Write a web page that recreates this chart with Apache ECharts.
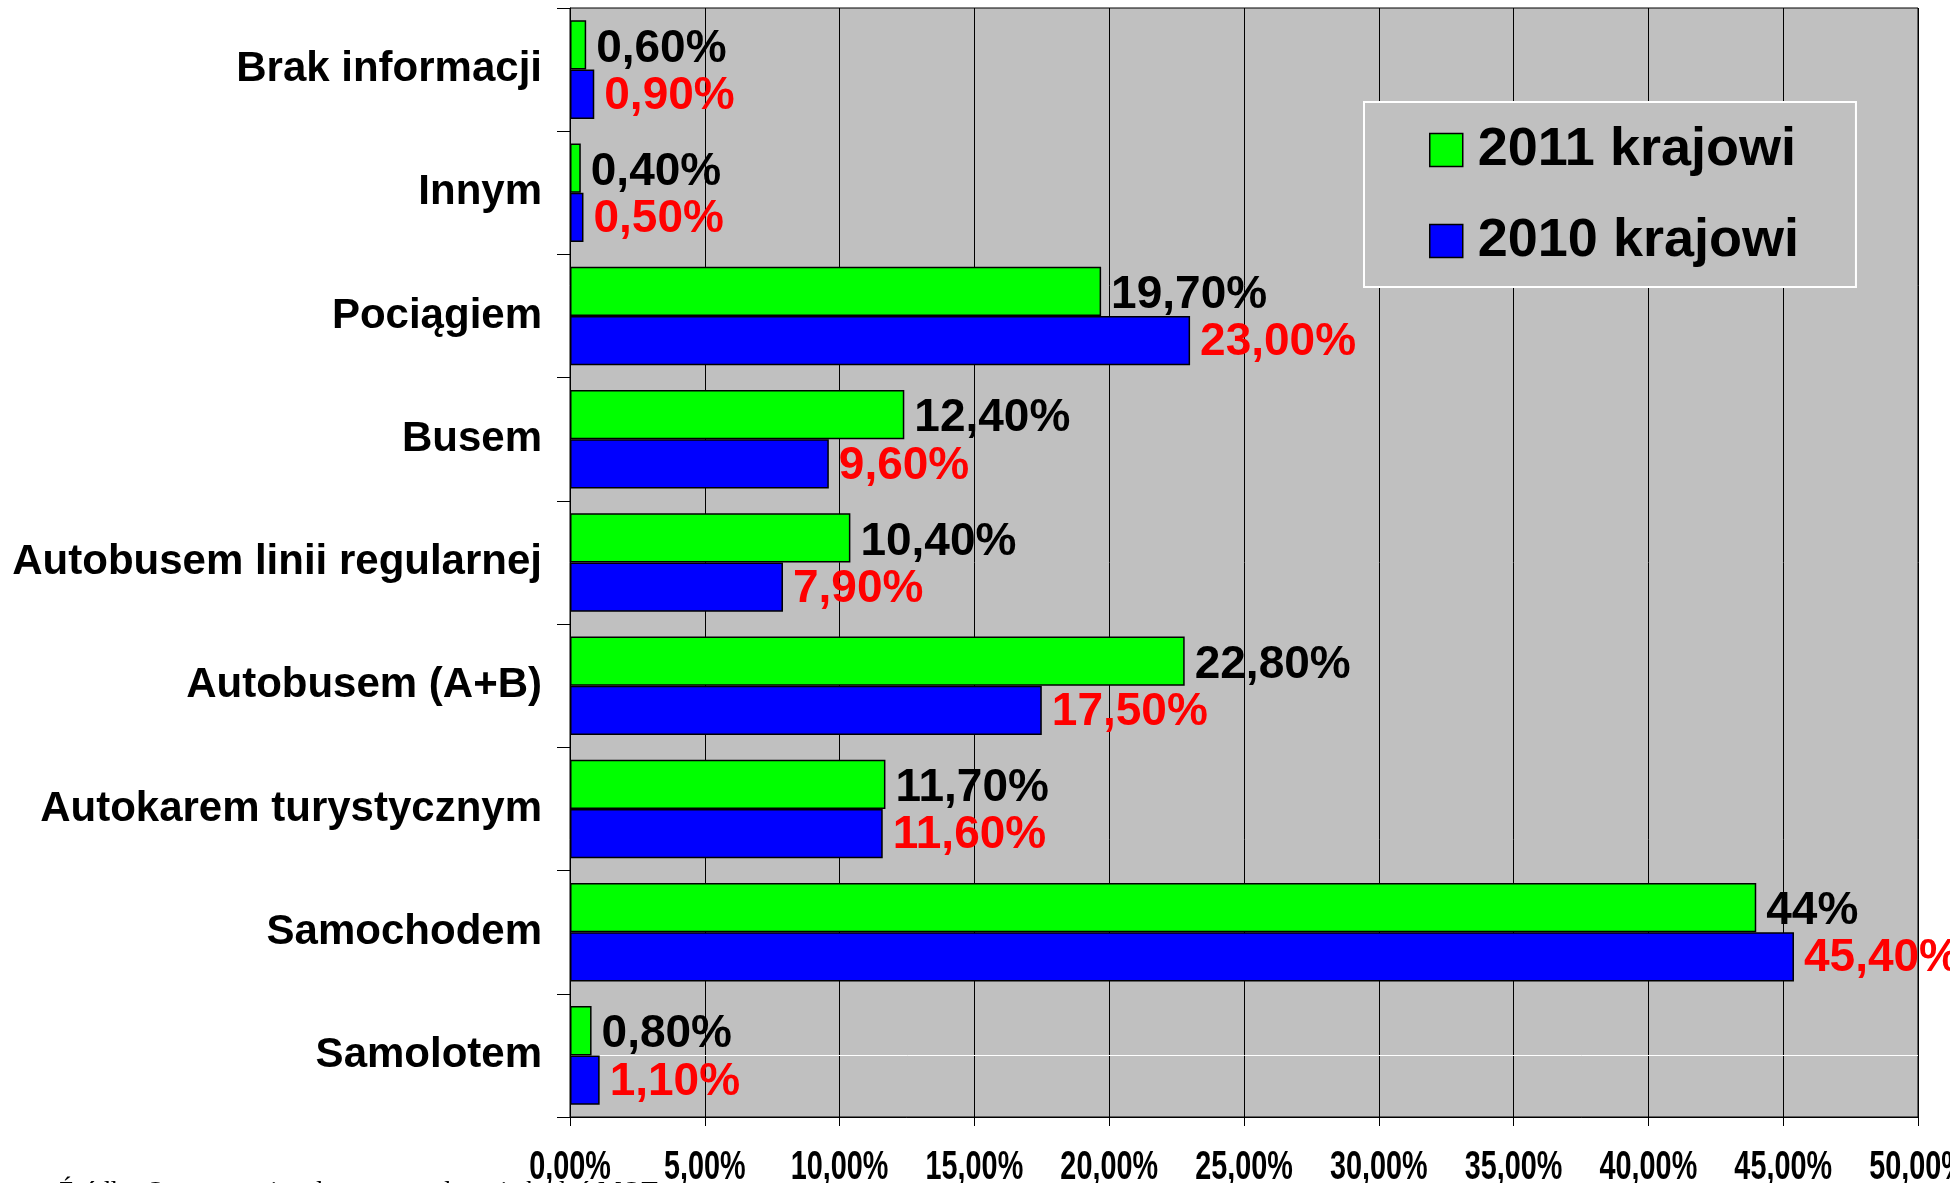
<!DOCTYPE html>
<html>
<head>
<meta charset="utf-8">
<script src="https://cdn.jsdelivr.net/npm/echarts@6/dist/echarts.min.js"></script>
<style>
    html, body { margin: 0; padding: 0; background: #fff; }
    #main { width: 1950px; height: 1183px; }
</style>
</head>
<body>
<div id="main"></div>
<script>
// dane z wykresu (od góry do dołu)
const categories = [
    'Brak informacji',
    'Innym',
    'Pociągiem',
    'Busem',
    'Autobusem linii regularnej',
    'Autobusem (A+B)',
    'Autokarem turystycznym',
    'Samochodem',
    'Samolotem',
];
const values2011 = [0.6, 0.4, 19.7, 12.4, 10.4, 22.8, 11.7, 44, 0.8];
const values2010 = [0.9, 0.5, 23.0, 9.6, 7.9, 17.5, 11.6, 45.4, 1.1];
// w oryginale ta jedna etykieta jest bez miejsc po przecinku
const wholeLabels2011 = ['Samochodem'];
const xTicks = [0, 5, 10, 15, 20, 25, 30, 35, 40, 45, 50];
const sourceNote = 'Źródło: Opracowanie własne na podstawie badań MOT';

const FONT = '"Liberation Sans", Arial, sans-serif';

function pct(v, digits) {
    return v.toFixed(digits).replace('.', ',') + '%';
}

let option = {
    backgroundColor: '#ffffff',
    animation: false,
    grid: {
        left: 570,
        top: 8,
        right: 32,
        bottom: 66,
        containLabel: false,
        outerBoundsMode: 'none',
        show: true,
        backgroundColor: '#c0c0c0',
        borderColor: '#000',
        borderWidth: 1,
    },
    legend: {
        orient: 'vertical',
        left: 1364,
        top: 102,
        itemWidth: 33,
        itemHeight: 33,
        itemGap: 37,
        icon: 'rect',
        backgroundColor: '#c0c0c0',
        borderColor: '#ffffff',
        borderWidth: 2,
        padding: [21, 57, 19, 65],
        itemStyle: {
            borderColor: '#000',
            borderWidth: 1.5,
        },
        textStyle: {
            fontFamily: FONT,
            fontSize: 54,
            fontWeight: 'bold',
            color: '#000',
            lineHeight: 54,
            padding: [0, 0, 0, 10],
        },
        data: ['2011 krajowi', '2010 krajowi'],
    },
    xAxis: {
        type: 'value',
        min: xTicks[0],
        max: xTicks[xTicks.length - 1],
        interval: xTicks[1] - xTicks[0],
        axisLine: { show: true, lineStyle: { color: '#000', width: 1 } },
        axisTick: { show: true, length: 9, inside: false, lineStyle: { color: '#000', width: 1 } },
        splitLine: { show: true, lineStyle: { color: '#000', width: 1 } },
        // etykiety osi X rysowane niżej jako zwężony tekst
        axisLabel: { show: false },
    },
    yAxis: {
        type: 'category',
        inverse: true,
        data: categories,
        axisLine: { show: true, lineStyle: { color: '#000', width: 1 } },
        axisTick: { show: true, length: 13, inside: false, lineStyle: { color: '#000', width: 1 } },
        splitLine: { show: false },
        axisLabel: {
            margin: 28,
            fontFamily: FONT,
            fontSize: 42,
            fontWeight: 'bold',
            color: '#000',
            padding: [10, 0, 0, 0],
        },
    },
    series: [
        {
            name: '2011 krajowi',
            type: 'bar',
            data: values2011,
            barGap: '0%',
            barCategoryGap: '20%',
            itemStyle: { color: '#00ff00', borderColor: '#000', borderWidth: 1.5 },
            label: {
                show: true,
                position: 'right',
                distance: 10,
                offset: [0, 4],
                fontFamily: FONT,
                fontSize: 46,
                fontWeight: 'bold',
                color: '#000',
                formatter: (p) => pct(p.value, wholeLabels2011.includes(p.name) ? 0 : 2),
            },
        },
        {
            name: '2010 krajowi',
            type: 'bar',
            data: values2010,
            barGap: '0%',
            barCategoryGap: '20%',
            itemStyle: { color: '#0000ff', borderColor: '#000', borderWidth: 1.5 },
            label: {
                show: true,
                position: 'right',
                distance: 10,
                offset: [0, 2],
                fontFamily: FONT,
                fontSize: 46,
                fontWeight: 'bold',
                color: '#ff0000',
                formatter: (p) => pct(p.value, 2),
            },
        },
    ],
};

let chart = echarts.init(document.getElementById('main'));
chart.setOption(option);

function drawExtras() {
    const rect = chart.getModel().getComponent('grid', 0).coordinateSystem.getRect();
    const baseY = rect.y + rect.height;
    // cienka biała linia przez ostatnią kategorię, jak w oryginale
    const lastY = Math.round(chart.convertToPixel({ yAxisIndex: 0 }, categories[categories.length - 1])) + 0.5;
    let elements = [
        {
            id: 'note',
            type: 'text',
            left: 58,
            top: 1179,
            silent: true,
            style: {
                text: sourceNote,
                font: '27px "Liberation Serif", "Times New Roman", serif',
                fill: '#000',
            },
        },
        {
            id: 'whiteLine',
            type: 'line',
            silent: true,
            z: 1,
            shape: { x1: rect.x + 1, y1: lastY, x2: rect.x + rect.width, y2: lastY },
            style: { stroke: '#ffffff', lineWidth: 1 },
        },
    ];
    xTicks.forEach((v, i) => {
        elements.push({
            id: 'xl' + i,
            type: 'text',
            x: chart.convertToPixel({ xAxisIndex: 0 }, v),
            y: baseY + 31,
            scaleX: 0.72,
            silent: true,
            style: {
                x: 0,
                y: 0,
                text: pct(v, 2),
                font: 'bold 40px "Liberation Sans", Arial, sans-serif',
                fill: '#000',
                align: 'center',
                verticalAlign: 'top',
            },
        });
    });
    chart.setOption({ graphic: { elements: elements } });
}
drawExtras();

window.addEventListener('resize', () => {
    chart.resize();
    drawExtras();
});
</script>
</body>
</html>
